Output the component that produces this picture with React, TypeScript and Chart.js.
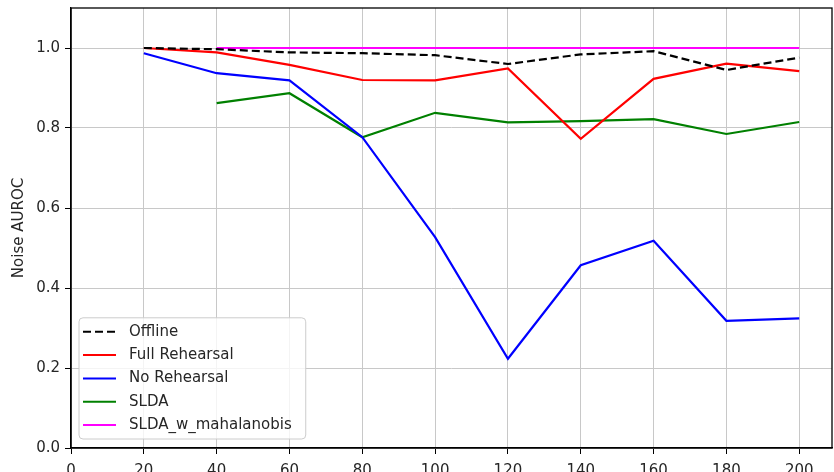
import React, { useEffect, useRef } from "react";
import { Chart, registerables } from "chart.js";

Chart.register(...registerables);

// Number of classes seen so far (x) and Noise AUROC for each method (y).
const steps = [20, 40, 60, 80, 100, 120, 140, 160, 180, 200];
const offline = [1.0, 0.997, 0.989, 0.987, 0.982, 0.96, 0.984, 0.992, 0.945, 0.976];
const fullRehearsal = [1.0, 0.989, 0.958, 0.92, 0.919, 0.949, 0.773, 0.923, 0.961, 0.942];
const noRehearsal = [0.987, 0.937, 0.919, 0.777, 0.527, 0.223, 0.457, 0.518, 0.318, 0.324];
const slda = [null, 0.862, 0.887, 0.777, 0.838, 0.814, 0.817, 0.822, 0.785, 0.815];
const sldaMahalanobis = [null, 1.0, 1.0, 1.0, 1.0, 1.0, 1.0, 1.0, 1.0, 1.0];

const seriesLabels = ["Offline", "Full Rehearsal", "No Rehearsal", "SLDA", "SLDA_w_mahalanobis"];
const seriesColors = ["#000000", "#ff0000", "#0000ff", "#008000", "#ff00ff"];

const xTicks = [0, 20, 40, 60, 80, 100, 120, 140, 160, 180, 200];
const yTicks = [0.0, 0.2, 0.4, 0.6, 0.8, 1.0];

const FONT = "'DejaVu Sans', sans-serif";
const TEXT = "#262626";

function toPoints(values: (number | null)[]) {
  return steps
    .map((x, i) => ({ x, y: values[i] }))
    .filter((p) => p.y !== null) as { x: number; y: number }[];
}

// Black frame around the plotting area (all four spines).
const framePlugin = {
  id: "frame",
  afterDatasetsDraw(chart: any) {
    const { ctx, chartArea } = chart;
    ctx.save();
    ctx.strokeStyle = "#000";
    ctx.lineWidth = 1.3;
    ctx.strokeRect(chartArea.left, chartArea.top, chartArea.right - chartArea.left, chartArea.bottom - chartArea.top);
    ctx.restore();
  },
};

// Legend box placed inside the lower-left corner of the plot.
const insetLegendPlugin = {
  id: "insetLegend",
  afterDraw(chart: any) {
    const { ctx, chartArea } = chart;
    const datasets = chart.data.datasets;
    ctx.save();
    ctx.font = `15px ${FONT}`;
    const rowH = 23.3;
    const handleLen = 33;
    const textOffset = 50;
    let maxW = 0;
    datasets.forEach((d: any) => {
      maxW = Math.max(maxW, ctx.measureText(d.label).width);
    });
    const w = textOffset + maxW + 14;
    const h = rowH * (datasets.length - 1) + 28;
    const x = chartArea.left + 8;
    const y = chartArea.bottom - 9 - h;

    ctx.beginPath();
    ctx.roundRect(x, y, w, h, 4);
    ctx.fillStyle = "rgba(255,255,255,0.8)";
    ctx.fill();
    ctx.strokeStyle = "#cccccc";
    ctx.lineWidth = 1;
    ctx.stroke();

    datasets.forEach((d: any, i: number) => {
      const cy = y + 14 + i * rowH;
      ctx.beginPath();
      ctx.setLineDash(d.borderDash || []);
      ctx.strokeStyle = d.borderColor;
      ctx.lineWidth = 2;
      ctx.moveTo(x + 4, cy);
      ctx.lineTo(x + 4 + handleLen, cy);
      ctx.stroke();
      ctx.setLineDash([]);
      ctx.fillStyle = TEXT;
      ctx.textBaseline = "middle";
      ctx.textAlign = "left";
      ctx.fillText(d.label, x + textOffset, cy);
    });
    ctx.restore();
  },
};

export default function App() {
  const canvasRef = useRef<HTMLCanvasElement | null>(null);

  useEffect(() => {
    document.body.style.margin = "0";
    const canvas = canvasRef.current;
    if (!canvas) return;

    const allSeries = [offline, fullRehearsal, noRehearsal, slda, sldaMahalanobis];
    const datasets = allSeries.map((values, i) => ({
      label: seriesLabels[i],
      data: toPoints(values),
      borderColor: seriesColors[i],
      backgroundColor: seriesColors[i],
      borderWidth: 2.2,
      borderDash: i === 0 ? [8, 4] : undefined,
      pointRadius: 0,
      tension: 0,
      fill: false,
    }));

    const chart = new Chart(canvas, {
      type: "line",
      data: { datasets },
      options: {
        animation: false,
        responsive: false,
        devicePixelRatio: 1,
        layout: { padding: { top: 8, right: 2, left: 0, bottom: 0 } },
        plugins: {
          legend: { display: false },
          tooltip: { enabled: false },
        },
        scales: {
          x: {
            type: "linear",
            min: 0,
            max: 209,
            afterFit: (scale: any) => {
              scale.height = 24;
              scale.paddingLeft = 0;
              scale.paddingRight = 0;
            },
            afterBuildTicks: (scale: any) => {
              scale.ticks = xTicks.map((v) => ({ value: v }));
            },
            ticks: {
              font: { family: FONT, size: 15 },
              color: TEXT,
              padding: 8,
              maxRotation: 0,
              autoSkip: false,
              callback: (v: any) => String(Math.round(Number(v))),
            },
            grid: {
              color: "#c8c8c8",
              lineWidth: 1,
              tickColor: "#000",
              tickLength: 6,
            },
            border: { color: "#000", width: 1.3 },
          },
          y: {
            type: "linear",
            min: 0,
            max: 1.1,
            afterFit: (scale: any) => {
              scale.width = 71;
              scale.paddingTop = 0;
              scale.paddingBottom = 0;
            },
            afterBuildTicks: (scale: any) => {
              scale.ticks = yTicks.map((v) => ({ value: v }));
            },
            ticks: {
              font: { family: FONT, size: 15 },
              color: TEXT,
              padding: 5,
              autoSkip: false,
              callback: (v: any) => Number(v).toFixed(1),
            },
            grid: {
              color: "#c8c8c8",
              lineWidth: 1,
              tickColor: "#000",
              tickLength: 6,
            },
            border: { color: "#000", width: 1.3 },
            title: {
              display: true,
              text: "Noise AUROC",
              font: { family: FONT, size: 15 },
              color: TEXT,
              padding: { top: 10, bottom: 0 },
            },
          },
        },
      },
      plugins: [framePlugin, insetLegendPlugin],
    });

    return () => chart.destroy();
  }, []);

  return (
    <div style={{ width: 834, height: 472, background: "#fff" }}>
      <canvas ref={canvasRef} width={834} height={472} />
    </div>
  );
}
